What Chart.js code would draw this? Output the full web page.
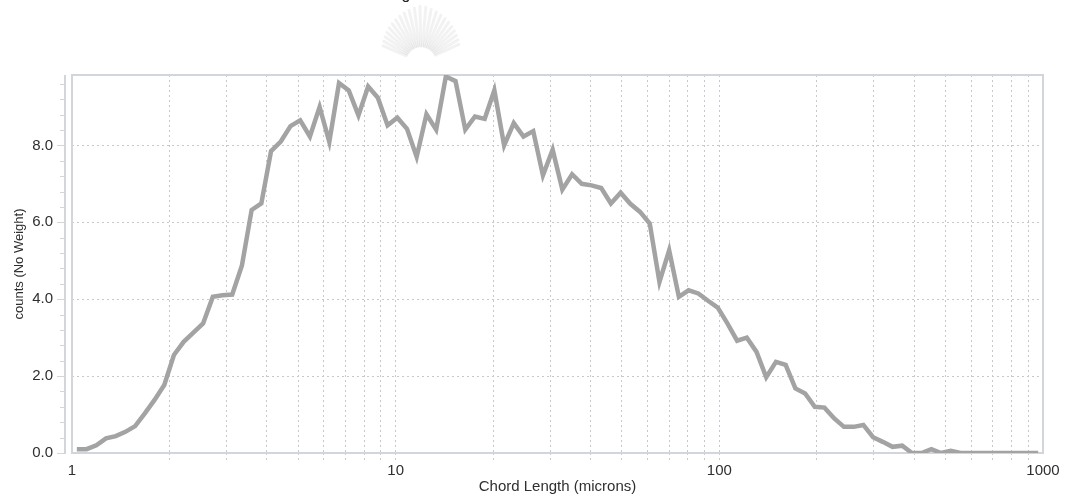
<!DOCTYPE html>
<html>
<head>
<meta charset="utf-8">
<script src="https://cdn.jsdelivr.net/npm/chart.js@4/dist/chart.umd.min.js"></script>
<style>
  html, body { margin: 0; padding: 0; background: #ffffff; }
  #wrap { position: relative; width: 1067px; height: 502px; }
</style>
</head>
<body>
<div id="wrap"><canvas id="c" width="1067" height="502"></canvas></div>
<script>
// Channel mid-points of the chord length distribution (microns)
const chordLength = [
  1.035, 1.109, 1.189, 1.274, 1.365, 1.462, 1.567, 1.679, 1.799, 1.928,
  2.065, 2.213, 2.371, 2.541, 2.723, 2.917, 3.126, 3.350, 3.589, 3.846,
  4.121, 4.416, 4.732, 5.070, 5.433, 5.821, 6.237, 6.683, 7.161, 7.674,
  8.222, 8.810, 9.441, 10.12, 10.84, 11.61, 12.45, 13.34, 14.29, 15.31,
  16.41, 17.58, 18.84, 20.18, 21.63, 23.17, 24.83, 26.61, 28.51, 30.55,
  32.73, 35.08, 37.58, 40.27, 43.15, 46.24, 49.55, 53.09, 56.89, 60.95,
  65.31, 69.98, 74.99, 80.35, 86.10, 92.26, 98.86, 105.9, 113.5, 121.6,
  130.3, 139.6, 149.6, 160.3, 171.8, 184.1, 197.2, 211.3, 226.5, 242.7,
  260.0, 278.6, 298.5, 319.9, 342.8, 367.3, 393.6, 421.7, 451.9, 484.2,
  518.8, 555.9, 595.7, 638.3, 683.9, 732.8, 785.2, 841.4, 901.6, 966.1
];

// Counts per channel (no weighting)
const counts = [
  0.10, 0.10, 0.20, 0.38, 0.44, 0.55, 0.70, 1.03, 1.38, 1.77,
  2.55, 2.89, 3.13, 3.37, 4.06, 4.10, 4.12, 4.88, 6.32, 6.49,
  7.85, 8.10, 8.50, 8.65, 8.23, 9.00, 8.09, 9.62, 9.43, 8.78,
  9.53, 9.24, 8.52, 8.72, 8.43, 7.70, 8.81, 8.41, 9.79, 9.67,
  8.41, 8.75, 8.69, 9.43, 8.00, 8.58, 8.23, 8.37, 7.22, 7.89,
  6.85, 7.25, 7.00, 6.96, 6.89, 6.49, 6.77, 6.48, 6.27, 5.97,
  4.45, 5.27, 4.06, 4.23, 4.15, 3.96, 3.78, 3.37, 2.92, 3.00,
  2.63, 1.97, 2.37, 2.29, 1.68, 1.55, 1.20, 1.18, 0.90, 0.68,
  0.68, 0.73, 0.41, 0.29, 0.16, 0.19, 0.00, 0.00, 0.10, 0.00,
  0.06, 0.00, 0.00, 0.00, 0.00, 0.00, 0.00, 0.00, 0.00, 0.00
];

// Axis ticks
const xTickValues = [1, 2, 3, 4, 5, 6, 7, 8, 9, 10, 20, 30, 40, 50, 60, 70, 80, 90,
                     100, 200, 300, 400, 500, 600, 700, 800, 900, 1000];
const xLabelValues = [1, 10, 100, 1000];
const yTickValues = [0, 2, 4, 6, 8];
const yMinorStep = 0.4;
const yMax = 9.83;

const FONT = "'Liberation Sans', Arial, sans-serif";
const GRID = '#c6cacf';
const FRAME = '#d2d6db';
const DASH = [2, 3];

// Plot frame, the detached y axis line with its minor ticks, and the faint page emblem
const framePlugin = {
  id: 'frame',
  beforeDraw(chart) {
    const ctx = chart.ctx;
    ctx.save();
    // faint emblem rays behind the plot
    const cx = 421, cy = 62;
    ctx.strokeStyle = 'rgba(0,0,0,0.05)';
    ctx.lineWidth = 3;
    ctx.lineCap = 'round';
    for (let a = 203; a <= 337; a += 6) {
      const r = a * Math.PI / 180;
      const len = 56 - Math.abs(a - 270) * 0.22;
      ctx.beginPath();
      ctx.moveTo(cx + Math.cos(r) * 16, cy + Math.sin(r) * 16);
      ctx.lineTo(cx + Math.cos(r) * len, cy + Math.sin(r) * len);
      ctx.stroke();
    }
    // cut-off caption line above the figure
    ctx.fillStyle = '#222';
    ctx.font = '16px ' + FONT;
    ctx.textAlign = 'center';
    ctx.textBaseline = 'alphabetic';
    ctx.fillText('g', 406, -1);
    ctx.restore();
  },
  beforeDatasetsDraw(chart) {
    const { ctx, chartArea: a, scales: { y } } = chart;
    ctx.save();
    ctx.strokeStyle = FRAME;
    ctx.lineWidth = 2;
    ctx.strokeRect(a.left, a.top, a.right - a.left, a.bottom - a.top);
    const ax = a.left - 7;
    ctx.beginPath();
    ctx.moveTo(ax, a.top);
    ctx.lineTo(ax, a.bottom + 1);
    ctx.stroke();
    ctx.lineWidth = 1;
    ctx.beginPath();
    for (let i = 0; i * yMinorStep <= y.max + 1e-9; i++) {
      const v = i * yMinorStep;
      const py = Math.round(y.getPixelForValue(v)) + 0.5;
      const major = Math.abs(v / 2 - Math.round(v / 2)) < 1e-6;
      ctx.moveTo(ax - (major ? 8 : 5), py);
      ctx.lineTo(ax, py);
    }
    ctx.stroke();
    ctx.restore();
  }
};

new Chart(document.getElementById('c'), {
  type: 'line',
  data: {
    datasets: [{
      data: chordLength.map((x, i) => ({ x: x, y: counts[i] })),
      borderColor: '#a3a3a3',
      borderWidth: 4.5,
      pointRadius: 0,
      tension: 0,
      fill: false
    }]
  },
  options: {
    responsive: false,
    animation: false,
    devicePixelRatio: 1,
    layout: { padding: { top: 75, right: 24, bottom: 0, left: 0 } },
    plugins: { legend: { display: false }, tooltip: { enabled: false } },
    scales: {
      x: {
        type: 'logarithmic',
        min: 1,
        max: 1000,
        afterBuildTicks: s => { s.ticks = xTickValues.map(v => ({ value: v })); },
        afterFit: s => { s.height = 49; },
        ticks: {
          autoSkip: false,
          maxRotation: 0,
          padding: 2,
          color: '#2f2f2f',
          font: { family: FONT, size: 15 },
          callback: v => (xLabelValues.includes(v) ? String(v) : '')
        },
        grid: {
          color: c => (c.tick && (c.tick.value === 1 || c.tick.value === 1000)) ? 'rgba(0,0,0,0)' : GRID,
          tickColor: c => (c.tick && (c.tick.value === 1 || c.tick.value === 1000)) ? 'rgba(0,0,0,0)' : GRID,
          lineWidth: 1,
          tickLength: 7,
          tickBorderDash: DASH
        },
        border: { display: false, dash: DASH },
        title: {
          display: true,
          text: 'Chord Length (microns)',
          color: '#2f2f2f',
          font: { family: FONT, size: 15 },
          padding: { top: 0, bottom: 6 }
        }
      },
      y: {
        min: 0,
        max: yMax,
        afterBuildTicks: s => { s.ticks = yTickValues.map(v => ({ value: v })); },
        afterFit: s => { s.width = 72; },
        ticks: {
          padding: 19,
          color: '#2f2f2f',
          font: { family: FONT, size: 15 },
          callback: v => Number(v).toFixed(1)
        },
        grid: { color: GRID, lineWidth: 1, drawTicks: false },
        border: { display: false, dash: DASH },
        title: {
          display: true,
          text: 'counts (No Weight)',
          color: '#2f2f2f',
          font: { family: FONT, size: 13 },
          padding: { top: 12, bottom: 0 }
        }
      }
    }
  },
  plugins: [framePlugin]
});
</script>
</body>
</html>
